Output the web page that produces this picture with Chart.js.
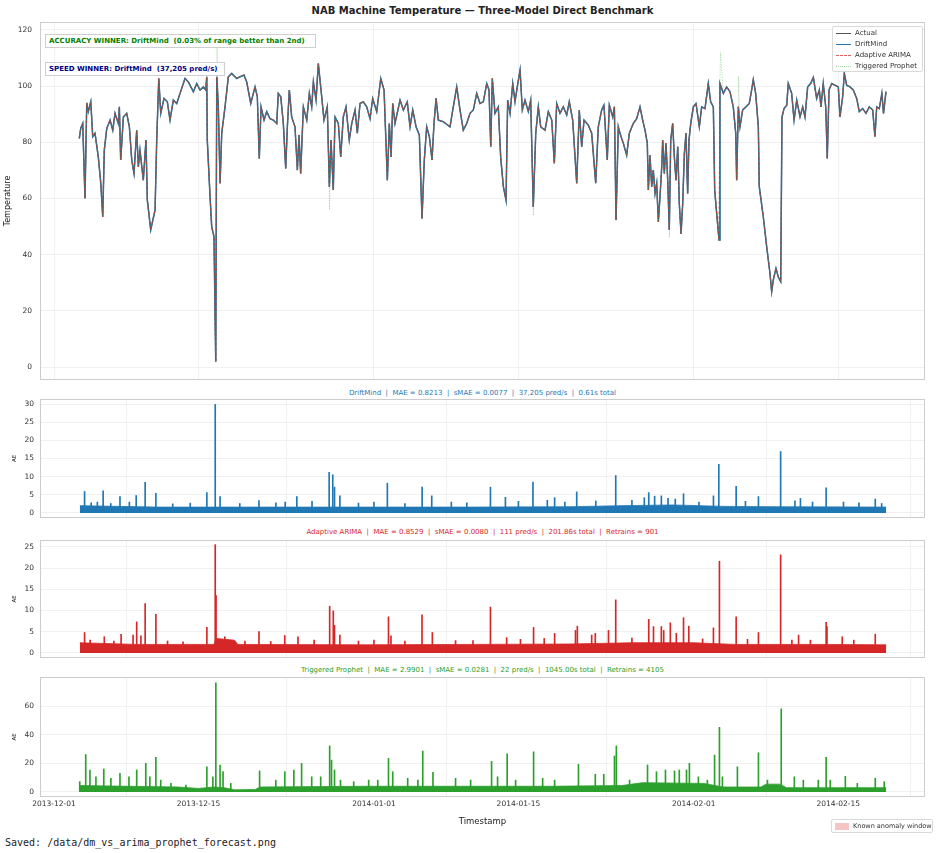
<!DOCTYPE html>
<html><head><meta charset="utf-8">
<script src="https://cdn.jsdelivr.net/npm/chart.js@4.4.1/dist/chart.umd.min.js"></script>
<style>
body{margin:0;background:#fff;width:940px;height:853px;position:relative;overflow:hidden;font-family:"DejaVu Sans",sans-serif;color:#222;}
canvas{position:absolute;left:0;}
.ctr{position:absolute;left:0;width:965px;text-align:center;white-space:pre;}
.box{position:absolute;background:#fff;border:1px solid #cfcfcf;font-weight:bold;font-size:7px;white-space:pre;box-sizing:border-box;padding-left:3px;}
.lg{position:absolute;background:rgba(255,255,255,0.85);border:1px solid #d9d9d9;border-radius:2px;box-sizing:border-box;font-size:7px;color:#333;}
.row{position:absolute;left:0;height:11px;line-height:11px;white-space:pre;}
.sw{position:absolute;left:3px;top:5px;width:15px;height:0;}
.row span{position:absolute;left:22px;}
</style></head><body>

<div class="ctr" style="top:4px;font-size:10px;font-weight:bold;line-height:14px;">NAB Machine Temperature — Three-Model Direct Benchmark</div>
<canvas id="cMain" width="925" height="358" style="top:22px;width:925px;height:358px;"></canvas>
<div class="box" style="left:45px;top:34px;width:271px;height:14px;line-height:12px;color:#008000;">ACCURACY WINNER: DriftMind  (0.03% of range better than 2nd)</div>
<div class="box" style="left:45px;top:62px;width:180px;height:14px;line-height:12px;color:#000080;">SPEED WINNER: DriftMind  (37,205 pred/s)</div>
<div class="lg" style="left:832px;top:26px;width:91px;height:46px;">
  <div class="row" style="top:1px;width:90px;"><div class="sw" style="border-top:1.3px solid #555;"></div><span>Actual</span></div>
  <div class="row" style="top:12px;width:90px;"><div class="sw" style="border-top:1.3px solid #1f77b4;"></div><span>DriftMind</span></div>
  <div class="row" style="top:23px;width:90px;"><div class="sw" style="border-top:1px dashed #e06060;"></div><span>Adaptive ARIMA</span></div>
  <div class="row" style="top:34px;width:90px;"><div class="sw" style="border-top:1px dotted #9fd89f;"></div><span>Triggered Prophet</span></div>
</div>

<div class="ctr" style="top:388px;font-size:7px;line-height:10px;color:#1f77b4;">DriftMind  |  MAE = 0.8213  |  sMAE = 0.0077  |  37,205 pred/s  |  0.61s total</div>
<canvas id="cDM" width="925" height="119" style="top:399px;width:925px;height:119px;"></canvas>

<div class="ctr" style="top:527px;font-size:7px;line-height:10px;color:#d62728;">Adaptive ARIMA  |  MAE = 0.8529  |  sMAE = 0.0080  |  111 pred/s  |  201.86s total  |  Retrains = 901</div>
<canvas id="cAR" width="925" height="118" style="top:540px;width:925px;height:118px;"></canvas>

<div class="ctr" style="top:665px;font-size:7px;line-height:10px;color:#2ca02c;">Triggered Prophet  |  MAE = 2.9901  |  sMAE = 0.0281  |  22 pred/s  |  1045.00s total  |  Retrains = 4105</div>
<canvas id="cPR" width="925" height="150" style="top:677px;width:925px;height:150px;"></canvas>

<div class="lg" style="left:831px;top:819px;width:102px;height:14px;font-size:6.5px;">
  <div style="position:absolute;left:3px;top:3px;width:14px;height:7px;background:#f7c4c4;"></div>
  <div style="position:absolute;left:21px;top:0;line-height:12px;white-space:pre;">Known anomaly window</div>
</div>
<div style="position:absolute;left:5px;top:836px;font-family:'DejaVu Sans Mono',monospace;font-size:10px;line-height:14px;white-space:pre;color:#222;">Saved: /data/dm_vs_arima_prophet_forecast.png</div>

<script>
// ---------- axes ----------
const X_TICK_DAYS = [0, 14, 31, 45, 62, 76];          // days since 2013-12-01
const X_TICK_LABELS = ['2013-12-01','2013-12-15','2014-01-01','2014-01-15','2014-02-01','2014-02-15'];
const TEMP_TICKS = [0, 20, 40, 60, 80, 100, 120];
const DM_TICKS = [0, 5, 10, 15, 20, 25, 30];
const AR_TICKS = [0, 5, 10, 15, 20, 25];
const PR_TICKS = [0, 20, 40, 60];

// ---------- actual temperature (days since 2013-12-01, value) ----------
const actualDays = [
 2.45,2.59,2.78,3.00,3.17,3.32,3.56,3.75,3.97,4.29,
 4.53,4.72,4.87,5.11,5.43,5.69,5.91,6.23,6.33,6.46,
 6.72,7.04,7.30,7.53,7.75,8.01,8.17,8.33,8.65,8.91,
 9.04,9.37,9.79,9.95,10.15,10.34,10.66,10.98,11.24,11.56,
 11.89,12.21,12.69,13.01,13.50,13.83,14.15,14.47,14.70,14.80,
 14.85,15.12,15.28,15.50,15.67,15.77,15.92,16.09,16.25,16.57,
 16.89,17.22,17.70,18.02,18.41,18.67,19.06,19.48,19.70,19.89,
 20.06,20.35,20.61,20.93,21.25,21.58,21.73,21.97,22.22,22.45,
 22.61,22.80,23.03,23.35,23.58,23.74,23.90,24.16,24.49,24.74,
 24.97,25.13,25.39,25.61,25.94,26.16,26.48,26.68,26.84,27.06,
 27.23,27.55,27.78,28.03,28.29,28.61,28.85,29.17,29.39,29.65,
 29.97,30.30,30.62,30.88,31.27,31.66,31.98,32.30,32.49,32.66,
 32.82,33.04,33.53,33.85,34.23,34.50,34.76,35.08,35.40,35.66,
 35.88,36.11,36.37,36.63,36.82,37.02,37.24,37.72,38.37,38.69,
 39.02,39.34,39.66,39.99,40.31,40.63,40.96,41.28,41.60,41.93,
 42.15,42.32,42.47,42.73,43.05,43.28,43.54,43.80,43.96,44.19,
 44.45,44.67,44.89,45.16,45.38,45.64,45.96,46.19,46.44,46.68,
 46.93,47.16,47.58,47.90,48.23,48.48,48.71,49.03,49.35,49.68,
 49.93,50.26,50.65,50.90,51.13,51.36,51.77,52.10,52.49,52.74,
 53.07,53.29,53.61,53.81,54.14,54.30,54.46,54.68,54.84,55.17,
 55.49,55.75,56.13,56.46,56.78,57.04,57.27,57.49,57.59,57.75,
 57.92,58.07,58.24,58.40,58.56,58.72,58.89,58.98,59.14,59.30,
 59.47,59.62,59.76,59.95,60.11,60.27,60.44,60.59,60.76,60.92,
 61.08,61.24,61.40,61.53,61.70,61.95,62.21,62.53,62.76,63.08,
 63.40,63.63,63.89,64.02,64.27,64.44,64.53,64.86,65.18,65.50,
 65.82,66.06,66.15,66.31,66.47,66.73,67.05,67.37,67.60,67.76,
 67.99,68.25,68.34,68.73,69.06,69.38,69.54,69.70,69.96,70.18,
 70.42,70.54,70.74,71.00,71.15,71.48,71.71,71.97,72.29,72.55,
 72.77,73.03,73.32,73.58,73.90,74.16,74.32,74.54,74.78,74.93,
 75.10,75.36,75.68,76.00,76.16,76.42,76.58,76.81,77.13,77.45,
 77.78,78.03,78.36,78.68,79.00,79.33,79.55,79.72,79.97,80.22,
 80.38,80.62
];
const actualTemp = [
 81.4,85.0,86.7,60.1,94.0,90.9,94.4,82.0,83.2,74.8,
 65.4,53.5,77.2,84.9,87.9,84.3,90.3,86.7,92.6,73.7,
 89.0,90.3,85.5,73.7,68.9,84.3,71.3,77.2,66.5,80.8,
 59.4,48.8,55.9,80.8,102.7,90.3,95.6,94.4,87.9,95.0,
 93.8,97.4,102.7,101.5,98.0,100.9,98.6,99.7,98.6,103.3,
 80.8,60.6,49.9,46.4,1.9,103.3,92.6,65.4,83.2,92.6,
 103.3,104.5,102.7,103.3,103.9,101.5,93.8,99.7,96.2,74.2,
 92.6,87.9,90.9,88.4,87.9,86.7,97.4,96.2,86.7,70.7,
 85.5,98.6,89.0,85.5,70.1,82.6,68.9,92.6,87.9,97.4,
 92.6,101.5,95.0,108.0,96.2,87.9,92.6,64.2,80.8,63.0,
 89.0,86.7,74.8,89.0,92.6,80.8,86.7,91.5,83.2,93.8,
 94.4,92.6,88.4,95.6,90.9,102.7,98.6,66.5,86.7,74.8,
 93.8,86.7,95.0,91.5,94.4,85.5,91.5,85.5,82.6,52.9,
 73.7,85.5,82.0,73.7,86.7,95.6,87.9,87.3,85.5,92.6,
 99.7,91.5,84.3,86.7,90.3,91.5,97.4,93.8,94.4,100.9,
 98.6,78.4,102.7,90.3,92.6,74.8,64.2,59.4,95.0,90.3,
 100.9,94.4,99.7,105.7,91.5,95.0,90.9,95.0,57.0,83.2,
 92.6,85.5,84.3,90.9,87.9,72.5,93.8,90.3,92.6,89.7,
 94.4,87.9,65.4,91.5,78.4,87.9,86.1,83.2,65.4,85.5,
 91.5,93.2,73.7,93.2,89.0,92.6,52.3,85.5,83.2,79.6,
 75.4,83.2,86.7,88.4,92.6,87.9,84.3,79.6,63.0,75.4,
 64.2,70.1,61.8,65.4,51.7,60.6,71.3,80.8,68.9,79.6,
 66.5,48.8,80.8,86.7,74.8,66.5,78.4,58.2,47.5,58.2,
 76.0,83.2,61.8,80.8,86.7,92.6,93.8,85.5,92.6,92.0,
 100.9,94.4,92.6,63.0,52.3,45.2,100.9,97.4,99.7,98.0,
 92.6,83.2,66.5,92.6,85.5,91.5,92.6,93.8,98.6,102.3,
 97.4,85.5,64.2,53.5,42.8,33.3,26.8,31.0,35.1,32.1,
 30.4,89.0,92.0,93.2,100.9,97.4,87.9,95.0,89.0,92.6,
 89.0,99.7,100.9,103.1,95.6,98.6,92.6,100.9,92.6,74.2,
 98.6,100.9,100.3,99.7,89.0,96.2,104.5,100.3,99.7,98.6,
 95.6,90.9,92.0,90.3,92.6,91.5,82.0,92.6,92.0,97.4,
 90.3,98.0
];
// Prophet forecast overshoots that stick out beyond the actual line
const prophetOvershootDays = [15.80, 26.70, 46.45, 59.63, 64.58, 66.33];
const prophetOvershootTemp = [113.9, 56.0, 54.0, 46.0, 112.0, 103.5];

// ---------- absolute errors ----------
const dmBandDays = [2.5, 10, 20, 30, 40, 50, 55, 60, 65, 70, 80.64];
const dmBandErr  = [2.0, 1.6, 1.6, 1.6, 1.6, 1.7, 2.0, 2.2, 1.8, 1.7, 1.6];
const dmSpikeDays = [2.96,3.6,4.2,4.76,5.5,6.39,7.3,7.96,8.83,9.87,11.5,13.2,14.81,15.62,16.09,18.0,19.86,21.5,22.4,23.53,
 25.0,26.66,27.01,27.18,27.70,29.5,31.0,32.30,34.0,35.67,36.60,38.5,40.0,42.29,43.74,45.0,46.41,47.8,48.51,49.5,
 50.65,52.5,54.43,56.0,57.2,57.63,58.2,58.85,59.5,60.2,61.00,62.5,63.90,64.42,66.10,67.0,68.26,70.41,71.8,72.33,
 73.5,74.82,76.5,78.0,79.58,80.2];
const dmSpikeErr = [5.9,2.8,3.0,6.1,2.6,4.5,3.0,4.8,8.4,5.4,2.5,2.7,5.6,29.9,4.5,2.6,3.4,2.8,3.0,4.5,
 3.2,11.2,10.5,7.1,4.7,2.7,3.0,8.2,2.6,7.1,4.7,3.0,2.8,7.1,4.3,3.2,8.5,3.5,4.2,3.0,
 5.8,3.3,10.3,3.5,4.2,5.6,4.6,4.7,4.0,3.8,5.3,3.0,4.7,13.4,7.3,3.2,4.5,16.9,3.3,4.0,
 3.0,6.9,3.0,2.8,3.8,2.6];

const arBandDays = [2.5, 8, 15.5, 15.7, 17.5, 17.8, 30, 40, 50, 56, 62, 66, 75, 80.64];
const arBandErr  = [2.4, 2.0, 2.0, 3.4, 3.0, 2.0, 1.9, 2.0, 2.1, 2.4, 2.4, 2.0, 2.0, 1.9];
const arSpikeDays = [2.96,3.5,4.87,5.8,6.50,7.66,8.01,8.42,8.83,9.87,11.0,12.5,14.81,15.62,15.70,16.55,18.5,19.86,21.0,22.36,
 23.64,25.2,26.71,27.06,27.18,27.70,29.5,31.0,32.41,32.65,34.0,35.66,36.66,38.91,40.60,42.29,43.86,45.2,46.47,47.5,
 48.51,50.53,50.71,52.10,52.45,53.73,54.43,56.0,57.63,58.09,58.85,59.08,59.72,60.30,61.00,61.51,62.85,63.90,64.48,66.10,
 67.2,68.26,70.41,71.5,72.15,73.3,74.82,74.90,76.38,77.5,79.58];
const arSpikeErr = [4.8,3.0,3.8,2.8,4.4,4.2,7.3,4.0,11.6,9.1,2.8,2.6,6.0,25.5,13.5,3.8,2.8,5.0,2.7,4.1,
 3.8,3.0,11.0,9.9,6.5,4.2,2.8,3.0,8.5,4.0,2.8,9.0,4.8,2.9,2.9,10.8,3.6,3.2,6.0,3.4,
 4.6,5.3,6.3,4.2,4.6,5.3,12.5,3.5,7.9,6.2,6.2,5.3,7.1,4.6,8.3,6.3,3.3,5.9,21.6,8.5,
 3.2,4.8,23.1,3.0,4.2,3.0,7.2,6.2,3.8,3.0,4.4];

const prBandDays = [2.5, 12, 14, 15.5, 16.5, 17.5, 19.5, 20, 30, 40, 48, 55, 57, 63, 64.8, 68.5, 69, 70.3, 71, 80.64];
const prBandErr  = [4.5, 3.5, 2.5, 3.5, 3.0, 1.5, 1.8, 3.5, 4.0, 4.0, 4.0, 4.5, 6.5, 6.0, 3.5, 3.5, 5.5, 5.5, 3.0, 3.0];
const prSpikeDays = [2.49,3.07,3.48,4.06,4.82,5.51,6.39,7.26,8.01,8.89,9.29,9.87,10.34,11.33,12.78,14.81,15.39,15.68,16.09,16.38,
 17.13,19.92,21.49,22.36,23.24,23.99,24.97,25.84,26.71,26.89,27.18,27.76,29.04,30.49,31.37,32.41,32.82,34.27,35.26,35.73,
 36.72,38.91,40.37,42.40,42.98,43.91,44.73,46.47,47.35,48.51,50.82,52.45,53.27,54.31,54.49,55.77,57.51,58.38,59.25,60.13,
 60.59,61.29,61.57,62.44,63.31,64.01,64.48,64.77,66.22,68.26,69.13,70.47,71.74,72.61,74.06,74.82,75.22,76.68,77.84,79.58,
 80.45];
const prSpikeErr = [7.2,26.2,15.4,10.6,16.1,9.6,13.0,10.6,15.4,20.0,10.6,24.2,8.3,6.0,4.9,17.6,10.6,76.4,18.9,14.2,
 6.0,14.7,8.3,14.2,15.4,20.0,10.6,10.6,32.2,22.3,15.4,8.3,7.2,8.3,8.3,23.5,14.2,9.6,8.3,28.6,
 13.8,9.6,8.3,21.4,10.6,26.6,8.3,28.1,9.6,8.3,19.3,12.4,12.4,25.2,32.2,8.3,18.9,14.2,15.4,14.7,
 15.4,15.4,20.0,10.6,8.3,25.8,45.2,10.6,17.6,27.4,8.3,58.2,10.6,8.3,8.3,24.2,8.3,11.0,6.0,9.6,
 7.2];

// ---------- rendering ----------
const X_MIN = -1.36, X_MAX = 84.4;
Chart.defaults.font.family = '"DejaVu Sans", sans-serif';
const pts = (xs, ys) => xs.map((x, i) => ({x, y: ys[i]}));

const framePlugin = {
  id: 'frame',
  afterDraw(chart) {
    const {ctx, chartArea: a} = chart;
    ctx.save();
    ctx.strokeStyle = '#cccccc'; ctx.lineWidth = 1;
    ctx.strokeRect(Math.round(a.left) + 0.5, Math.round(a.top) + 0.5, Math.round(a.width) - 1, Math.round(a.height) - 1);
    ctx.restore();
  }
};
const noPad = s => { s.paddingTop = 0; s.paddingBottom = 0; s.paddingLeft = 0; s.paddingRight = 0; };

function scales(o) {
  return {
    x: {
      type: 'linear', min: X_MIN, max: X_MAX, offset: false,
      afterBuildTicks: s => { s.ticks = X_TICK_DAYS.map(v => ({value: v})); },
      afterFit: s => { s.height = o.xh; noPad(s); },
      ticks: {display: o.showX, autoSkip: false, maxRotation: 0, color: '#333', font: {size: 7.5}, padding: 3,
        callback: (v, i) => X_TICK_LABELS[i]},
      grid: {color: '#ececec', lineWidth: 0.8, drawTicks: false},
      border: {display: false},
      title: {display: o.showX, text: 'Timestamp', color: '#222', font: {size: 8.5}, padding: {top: 6, bottom: 0}}
    },
    y: {
      min: o.yMin, max: o.yMax,
      afterBuildTicks: s => { s.ticks = o.yTicks.map(v => ({value: v})); },
      afterFit: s => { s.width = 40; noPad(s); },
      ticks: {color: '#333', font: {size: 7.5}, padding: o.yPad, callback: v => String(v)},
      grid: {color: '#ececec', lineWidth: 0.8, drawTicks: false},
      border: {display: false},
      title: {display: true, text: o.yTitle, color: '#222', font: {size: o.yTitleSize}, padding: {top: o.yTitlePad, bottom: 0}}
    }
  };
}
const baseOpts = (o) => ({
  responsive: false, animation: false,
  layout: {autoPadding: false, padding: 0},
  plugins: {legend: {display: false}, tooltip: {enabled: false}},
  elements: {point: {radius: 0}, line: {tension: 0}},
  scales: scales(o)
});

// main panel
const actualPts = pts(actualDays, actualTemp);
const prophetPts = actualPts.concat(pts(prophetOvershootDays, prophetOvershootTemp)).sort((a, b) => a.x - b.x);
new Chart(document.getElementById('cMain'), {
  type: 'line',
  data: {datasets: [
    {label: 'Actual', data: actualPts, borderColor: 'rgba(80,80,80,0.8)', borderWidth: 1.5, order: 4},
    {label: 'DriftMind', data: actualPts, borderColor: 'rgba(31,119,180,0.95)', borderWidth: 1.3, order: 3},
    {label: 'Adaptive ARIMA', data: actualPts, borderColor: 'rgba(214,39,40,0.8)', borderWidth: 1.0, borderDash: [3, 2], order: 2},
    {label: 'Triggered Prophet', data: prophetPts, borderColor: 'rgba(44,160,44,0.45)', borderWidth: 0.9, borderDash: [1, 1.5], order: 1}
  ]},
  options: baseOpts({xh: 0, showX: false, yMin: -4.6, yMax: 122.8, yTicks: TEMP_TICKS, yPad: 8,
    yTitle: 'Temperature', yTitleSize: 8, yTitlePad: 3}),
  plugins: [framePlugin]
});

function errPanel(id, color, bandD, bandE, spD, spE, o) {
  new Chart(document.getElementById(id), {
    type: 'line',
    data: {datasets: [
      {label: 'band', data: pts(bandD, bandE), borderColor: color, borderWidth: 0.8, backgroundColor: color, fill: 'origin'},
      {type: 'bar', label: 'AE', data: pts(spD, spE), backgroundColor: color, borderWidth: 0, barThickness: 1}
    ]},
    options: baseOpts(Object.assign({yPad: 6, yTitle: 'AE', yTitleSize: 5.5, yTitlePad: 11}, o)),
    plugins: [framePlugin]
  });
}
errPanel('cDM', '#1f77b4', dmBandDays, dmBandErr, dmSpikeDays, dmSpikeErr, {xh: 0, showX: false, yMin: -1.4, yMax: 31.4, yTicks: DM_TICKS});
errPanel('cAR', '#d62728', arBandDays, arBandErr, arSpikeDays, arSpikeErr, {xh: 0, showX: false, yMin: -1.2, yMax: 26.6, yTicks: AR_TICKS});
errPanel('cPR', '#2ca02c', prBandDays, prBandErr, prSpikeDays, prSpikeErr, {xh: 30, showX: true, yMin: -3.5, yMax: 80.4, yTicks: PR_TICKS});
</script>
</body></html>
